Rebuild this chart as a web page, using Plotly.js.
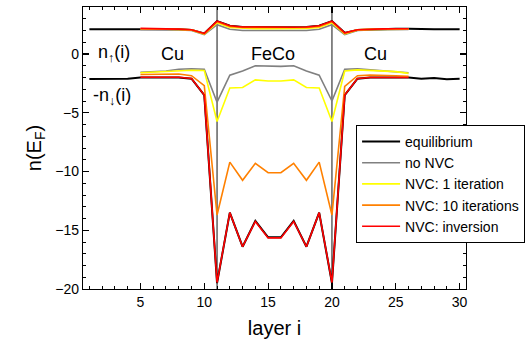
<!DOCTYPE html>
<html>
<head>
<meta charset="utf-8">
<script src="https://cdn.plot.ly/plotly-3.0.1.min.js"></script>
<style>html,body{margin:0;padding:0;background:#fff;}#chart{width:531px;height:345px;}</style>
</head>
<body>
<div id="chart"></div>
<script>
// Layers
var layersAll = [1,2,3,4,5,6,7,8,9,10,11,12,13,14,15,16,17,18,19,20,21,22,23,24,25,26,27,28,29,30];
var layers = [5,6,7,8,9,10,11,12,13,14,15,16,17,18,19,20,21,22,23,24,25,26];

// equilibrium (layers 1..30)
var eqUp = [2.1,2.1,2.1,2.1, 2.15,2.15,2.15,2.1,2.05,1.75, 2.8,2.4,2.3,2.28,2.28,2.28,2.28,2.3,2.4,2.8, 1.8,2.05,2.1,2.12,2.15,2.15, 2.1,2.1,2.1,2.1];
var eqDown = [-2.12,-2.1,-2.12,-2.1, -2.0,-2.0,-2.0,-2.0,-2.1,-3.5, -19.5,-13.5,-16.4,-14.2,-15.6,-15.6,-14.2,-16.4,-13.5,-19.5, -3.5,-2.1,-2.0,-2.0,-1.95,-2.0, -2.1,-2.05,-2.15,-2.1];

// no NVC (layers 5..26)
var noNvcUp = [2.1,2.1,2.1,2.05,2.0,1.65, 2.5,2.1,2.0,2.0,2.0,2.0,2.0,2.0,2.1,2.5, 1.65,2.0,2.05,2.05,2.1,2.1];
var noNvcDown = [-1.55,-1.5,-1.45,-1.3,-1.25,-1.3, -4.1,-1.8,-1.45,-1.0,-1.05,-1.05,-1.0,-1.45,-1.8,-4.0, -1.3,-1.25,-1.35,-1.45,-1.5,-1.6];

// NVC: 1 iteration
var it1Up = [2.15,2.15,2.12,2.08,2.05,1.7, 2.65,2.25,2.18,2.15,2.15,2.15,2.15,2.18,2.25,2.65, 1.72,2.05,2.1,2.1,2.12,2.12];
var it1Down = [-1.6,-1.55,-1.5,-1.42,-1.38,-1.4, -5.75,-2.9,-2.85,-2.2,-2.3,-2.3,-2.2,-2.85,-2.9,-5.75, -1.45,-1.35,-1.4,-1.45,-1.5,-1.65];

// NVC: 10 iterations
var it10Up = [2.15,2.15,2.13,2.1,2.05,1.72, 2.75,2.35,2.27,2.25,2.25,2.25,2.25,2.27,2.35,2.75, 1.75,2.05,2.1,2.12,2.13,2.13];
var it10Down = [-1.75,-1.75,-1.72,-1.7,-1.85,-2.7, -13.7,-9.2,-10.75,-9.3,-10.1,-10.1,-9.3,-10.75,-9.2,-13.7, -2.75,-1.85,-1.8,-1.8,-1.85,-1.9];

// NVC: inversion
var invUp = [2.18,2.18,2.16,2.12,2.07,1.75, 2.8,2.4,2.3,2.28,2.28,2.28,2.28,2.3,2.4,2.8, 1.8,2.07,2.12,2.14,2.15,2.15];
var invDown = [-1.98,-1.98,-1.98,-1.98,-2.08,-3.5, -19.45,-13.5,-16.4,-14.25,-15.65,-15.65,-14.25,-16.4,-13.5,-19.45, -3.5,-2.08,-2.0,-2.0,-1.95,-2.0];

var seriesNames = ['equilibrium','no NVC','NVC: 1 iteration','NVC: 10 iterations','NVC: inversion'];
var seriesColors = ['#000000','#808080','#ffff00','#ff8000','#ff0000'];
var seriesWidths = [2.0,1.6,1.6,1.6,1.6];

var seriesX = [layersAll, layers, layers, layers, layers];
var seriesUp = [eqUp, noNvcUp, it1Up, it10Up, invUp];
var seriesDown = [eqDown, noNvcDown, it1Down, it10Down, invDown];

var traces = seriesNames.map(function(name, k){
  return {
    type:'scatter', mode:'lines', name:name,
    x: seriesX[k].concat([null], seriesX[k]),
    y: seriesUp[k].concat([null], seriesDown[k]),
    connectgaps:false,
    line:{color:seriesColors[k], width:seriesWidths[k]},
    hoverinfo:'skip'
  };
});

var interfaces = [11, 20];
var shapes = interfaces.map(function(xv){
  return {type:'line', xref:'x', yref:'paper', x0:xv, x1:xv, y0:0, y1:1,
          line:{color:'#3a3a3a', width:1.2}, layer:'below'};
});

var F = 'Arial, "Liberation Sans", sans-serif';
var annText = ['n<sub>↑</sub>(i)','-n<sub>↓</sub>(i)','Cu','FeCo','Cu'];
var annX = [2.95, 2.8, 7.5, 15.4, 23.4];
var annY = [0.05, -3.65, 0, 0, 0];
var annotations = annText.map(function(t, k){
  return {text:t, x:annX[k], y:annY[k], xref:'x', yref:'y', showarrow:false,
          font:{family:F, size:18, color:'#000'}, xanchor:'center', yanchor:'middle'};
});

var axisCommon = {
  showgrid:false, zeroline:false, showline:true, linecolor:'#000', linewidth:1.2,
  mirror:'allticks', ticks:'inside', ticklen:6, tickwidth:1.2, tickcolor:'#000',
  tickfont:{family:F, size:14, color:'#000'}, automargin:false
};

var layout = {
  width:531, height:345,
  margin:{l:83, r:65, t:7, b:56, autoexpand:false},
  paper_bgcolor:'#fff', plot_bgcolor:'#fff',
  showlegend:true,
  legend:{x:0.713, y:0.582, xanchor:'left', yanchor:'top',
          bordercolor:'#000', borderwidth:1, bgcolor:'#fff',
          font:{family:F, size:14, color:'#000'}, tracegroupgap:0, itemwidth:38},
  xaxis: Object.assign({}, axisCommon, {
    range:[0.5,30.5], tick0:0, dtick:5,
    minor:{dtick:1, ticklen:3, tickwidth:1, tickcolor:'#000', ticks:'inside'},
    title:{text:'layer i', font:{family:F, size:20, color:'#000'}, standoff:12}
  }),
  yaxis: Object.assign({}, axisCommon, {
    range:[-20,4], tick0:0, dtick:5,
    minor:{dtick:1, ticklen:3, tickwidth:1, tickcolor:'#000', ticks:'inside'},
    title:{text:'n(E<sub>F</sub>)', font:{family:F, size:20, color:'#000'}, standoff:8}
  }),
  shapes:shapes,
  annotations:annotations
};

Plotly.newPlot('chart', traces, layout, {staticPlot:true, displayModeBar:false});
</script>
</body>
</html>
